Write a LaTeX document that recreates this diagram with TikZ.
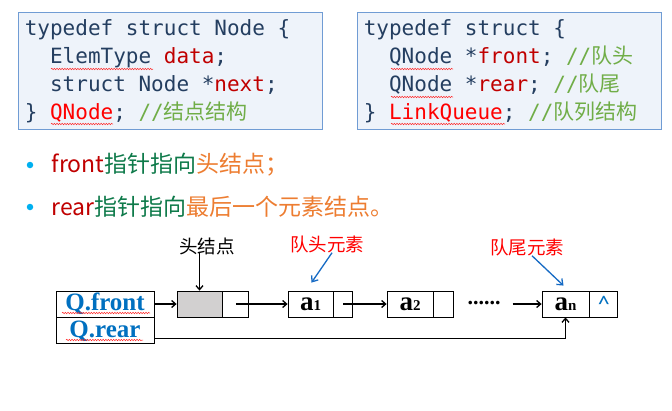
\documentclass[tikz,border=0pt]{standalone}
\usepackage{fontspec}
\setmainfont{Liberation Serif}
\setsansfont{Carlito}
\setmonofont{DejaVu Sans Mono}
\newfontfamily\cjk{Noto Sans CJK SC}
\usepackage{xcolor}
\usepackage{tikz}
\usetikzlibrary{calc, positioning, decorations.pathmorphing, arrows.meta}
\definecolor{codebg}{RGB}{238, 243, 250}
\definecolor{codeframe}{RGB}{112, 156, 212}
\definecolor{codetxt}{RGB}{36, 62, 96}
\definecolor{darkred}{RGB}{192, 0, 0}
\definecolor{cmtgreen}{RGB}{112, 173, 71}
\definecolor{txtgreen}{RGB}{14, 122, 74}
\definecolor{txtorange}{RGB}{237, 125, 49}
\definecolor{bulletblue}{RGB}{0, 176, 240}
\definecolor{qblue}{RGB}{0, 112, 192}
\definecolor{arrowblue}{RGB}{21, 106, 196}
\definecolor{gra}{RGB}{210, 208, 208}
\tikzset{
    codebox/.style = {draw=codeframe, fill=codebg, rectangle, line width=0.8pt, inner sep=0pt},
    codetext/.style = {draw=none, inner sep=0pt, align=left, text=codetxt,
      font=\ttfamily\fontsize{21}{27.8}\selectfont},
    bulletdot/.style = {circle, fill=bulletblue, inner sep=0pt, minimum size=6.5pt},
    bullettext/.style = {draw=none, inner sep=0pt, font=\cjk\fontsize{23}{23}\selectfont},
    cellnode/.style = {draw, rectangle, line width=0.8pt, inner sep=0pt, minimum height=26pt},
    qnode/.style = {cellnode, minimum width=98pt, text=qblue, font=\bfseries\fontsize{25}{25}\selectfont},
    datanode/.style = {cellnode, font=\bfseries\fontsize{27}{27}\selectfont},
    labelnode/.style = {draw=none, inner sep=0pt, font=\cjk\fontsize{18.5}{18.5}\selectfont},
    wavy/.style = {draw=red!85, line width=0.5pt, decorate,
      decoration={snake, amplitude=0.7pt, segment length=2.6pt}},
    connect/.style = {black, line width=1.3pt, -{Straight Barb[length=4pt, width=7pt]}},
    bluearrow/.style = {arrowblue, line width=1.3pt, -{Straight Barb[length=5pt, width=8pt]}}
}
\newcommand{\sub}[1]{{\fontsize{15}{15}\selectfont #1}}

\begin{document}
\begin{tikzpicture}[x=1pt, y=-1pt]
    \useasboundingbox[fill=white] (0,0) rectangle (672,410);

    % code boxes
    \node[codebox, name=codeA, minimum width=304pt, minimum height=117pt] at (170,70.5) {};
    \node[codetext, anchor=north west] at ([xshift=7pt, yshift=-8pt]codeA.north west)
      {typedef struct Node \{\\
       \phantom{xx}ElemType {\color{darkred}data};\\
       \phantom{xx}struct Node *{\color{darkred}next};\\
       \} {\color{red}QNode}; {\color{cmtgreen}//\cjk 结点结构}};
    \node[codebox, name=codeB, minimum width=304pt, minimum height=117pt] at (509,70.5) {};
    \node[codetext, anchor=north west] at ([xshift=7pt, yshift=-8pt]codeB.north west)
      {typedef struct \{\\
       \phantom{xx}QNode *{\color{darkred}front}; {\color{cmtgreen}//\cjk 队头}\\
       \phantom{xx}QNode *{\color{darkred}rear}; {\color{cmtgreen}//\cjk 队尾}\\
       \} {\color{red}LinkQueue}; {\color{cmtgreen}//\cjk 队列结构}};
    \draw[wavy] (51,69) -- (153,69);
    \draw[wavy] (51,124) -- (113,124);
    \draw[wavy] (391,69) -- (453,69);
    \draw[wavy] (391,97) -- (453,97);
    \draw[wavy] (391,124) -- (505,124);

    % bullets
    \node[bulletdot, name=b1] at (30,165) {};
    \node[bullettext, right=18pt of b1] {{\color{darkred}front}{\color{txtgreen}指针指向}{\color{txtorange}头结点；}};
    \node[bulletdot, name=b2] at (30,207) {};
    \node[bullettext, right=18pt of b2] {{\color{darkred}rear}{\color{txtgreen}指针指向}{\color{txtorange}最后一个元素结点。}};

    % linked queue
    \node[qnode, name=qfront] at (105,304) {Q.front};
    \node[qnode, name=qrear, below=0pt of qfront] {Q.rear};
    \draw[wavy] (62,313) -- (150,313);
    \draw[wavy] (66,340) -- (143,340);

    \node[cellnode, name=headD, fill=gra, minimum width=45pt] at (199.5,304) {};
    \node[cellnode, name=headP, minimum width=26pt, right=0pt of headD] {};
    \node[datanode, name=a1D, minimum width=45pt] at (310.5,304) {a\sub{1}};
    \node[cellnode, name=a1P, minimum width=19pt, right=0pt of a1D] {};
    \node[datanode, name=a2D, minimum width=46pt] at (410,304) {a\sub{2}};
    \node[cellnode, name=a2P, minimum width=20pt, right=0pt of a2D] {};
    \node[draw=none, name=dots, inner sep=0pt, font=\bfseries\fontsize{22}{22}\selectfont] at (484,303) {......};
    \node[datanode, name=anD, minimum width=47pt] at (565.5,304) {a\sub{n}};
    \node[cellnode, name=anP, minimum width=28pt, right=0pt of anD, text=qblue, font=\sffamily\fontsize{24}{24}\selectfont] {\textasciicircum};

    \draw[connect] (qfront.east) -- (headD.west);
    \draw[connect] (headP.center) -- (a1D.west);
    \draw[connect] (a1P.center) -- (a2D.west);
    \draw[connect] ([xshift=12pt]dots.east |- anD.west) -- (anD.west);
    \draw[connect] ([yshift=-8pt]qrear.east) -| (anD.south);

    \node[labelnode, name=headlbl] at (207,246) {头结点};
    \draw[connect] (headD.north |- headlbl.south) ++(0,-3) -- (headD.north);
    \node[labelnode, name=frontlbl, text=red] at (327,244) {队头元素};
    \draw[bluearrow] ([xshift=5pt]frontlbl.south) -- ([xshift=1pt, yshift=8pt]a1D.north);
    \node[labelnode, name=rearlbl, text=red] at (527,247) {队尾元素};
    \draw[bluearrow] ([xshift=5pt]rearlbl.south) -- ([xshift=-2pt, yshift=5pt]anD.north);
\end{tikzpicture}
\end{document}
